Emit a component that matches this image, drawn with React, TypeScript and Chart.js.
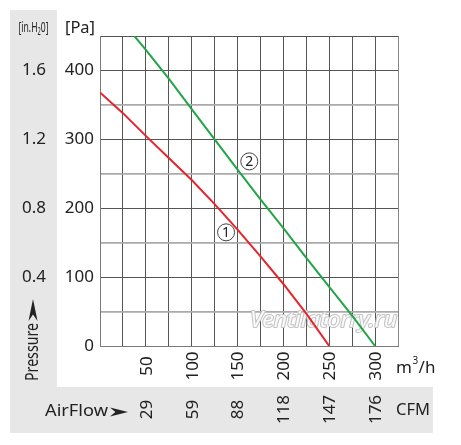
import React, { useEffect, useRef } from 'react';
import { Chart, registerables } from 'chart.js';

Chart.register(...registerables);

// ---- data ----
const flowRed = [0, 25, 50, 75, 100, 125, 150, 175, 200, 225, 250];
const pressureRed = [368, 338, 305, 273, 241, 206, 169, 130, 90, 47, 0];
const flowGreen = [37.5, 50, 75, 100, 125, 150, 175, 200, 225, 250, 275, 300];
const pressureGreen = [450, 430, 388, 344, 300, 256, 213, 171, 128, 86, 44, 0];

const flowTicks = [50, 100, 150, 200, 250, 300];
const flowTickLabels = ['50', '100', '150', '200', '250', '300'];
const cfmLabels = ['29', '59', '88', '118', '147', '176'];
const inH2OValues = [400, 300, 200, 100];
const inH2OLabels = ['1.6', '1.2', '0.8', '0.4'];
const curveTagText = ['1', '2'];
const curveTagFlow = [137.5, 162.8];
const curveTagPressure = [165, 268];

const FONT = "'Noto Sans', 'DejaVu Sans', sans-serif";
const TEXT = '#222222';
const GRAY_BG = '#e7e7e7';

function arrowHead(ctx: CanvasRenderingContext2D, x: number, y: number, len: number, half: number) {
  ctx.beginPath();
  ctx.moveTo(x + len, y);
  ctx.lineTo(x, y - half);
  ctx.lineTo(x + len * 0.3, y);
  ctx.lineTo(x, y + half);
  ctx.closePath();
  ctx.fill();
}

function fitText(ctx: CanvasRenderingContext2D, text: string, x: number, y: number, width: number) {
  const w = ctx.measureText(text).width;
  ctx.save();
  ctx.translate(x, y);
  ctx.scale(width / w, 1);
  ctx.fillText(text, 0, 0);
  ctx.restore();
}

const backgroundPlugin = {
  id: 'bgPanels',
  beforeDraw(chart: any) {
    const ctx = chart.ctx as CanvasRenderingContext2D;
    ctx.save();
    ctx.fillStyle = '#ffffff';
    ctx.fillRect(0, 0, chart.width, chart.height);
    ctx.fillStyle = GRAY_BG;
    ctx.fillRect(10, 10, 47, 423);
    ctx.fillRect(10, 387, 423, 46);
    ctx.restore();
  },
};

const watermarkPlugin = {
  id: 'watermark',
  beforeDatasetsDraw(chart: any) {
    const ctx = chart.ctx as CanvasRenderingContext2D;
    ctx.save();
    ctx.font = `italic 21px ${FONT}`;
    ctx.textBaseline = 'middle';
    ctx.textAlign = 'left';
    const text = 'Ventilatorry.ru';
    const w = ctx.measureText(text).width;
    ctx.translate(250, 321);
    ctx.scale(147 / w, 1);
    ctx.strokeStyle = '#c4c4c4';
    ctx.lineWidth = 2;
    ctx.lineJoin = 'round';
    ctx.strokeText(text, 0, 0);
    ctx.fillStyle = '#fafafa';
    ctx.fillText(text, 0, 0);
    ctx.restore();
  },
};

const labelsPlugin = {
  id: 'labels',
  afterDraw(chart: any) {
    const ctx = chart.ctx as CanvasRenderingContext2D;
    const xs = chart.scales.x;
    const ys = chart.scales.y;
    ctx.save();
    ctx.fillStyle = TEXT;

    // in.H2O labels
    ctx.font = `17px ${FONT}`;
    ctx.textAlign = 'right';
    ctx.textBaseline = 'middle';
    inH2OValues.forEach((v, i) => {
      ctx.fillText(inH2OLabels[i], 46, ys.getPixelForValue(v));
    });

    // [Pa]
    ctx.textAlign = 'left';
    fitText(ctx, '[Pa]', 65, 28, 30);

    // [in.H2O]
    ctx.save();
    ctx.font = `15px ${FONT}`;
    const wA = ctx.measureText('[in.H').width;
    const wC = ctx.measureText('0]').width;
    ctx.font = `10px ${FONT}`;
    const wB = ctx.measureText('2').width;
    const sx = 30 / (wA + wB + wC);
    ctx.translate(18.5, 28);
    ctx.scale(sx, 1);
    ctx.textAlign = 'left';
    ctx.font = `15px ${FONT}`;
    ctx.fillText('[in.H', 0, 0);
    ctx.font = `10px ${FONT}`;
    ctx.fillText('2', wA, 4.5);
    ctx.font = `15px ${FONT}`;
    ctx.fillText('0]', wA + wB, 0);
    ctx.restore();

    // x tick labels (rotated) and CFM row
    ctx.font = `17px ${FONT}`;
    ctx.textAlign = 'center';
    ctx.textBaseline = 'middle';
    flowTicks.forEach((v, i) => {
      const px = xs.getPixelForValue(v);
      ctx.save();
      ctx.translate(px + 1, 366);
      ctx.rotate(-Math.PI / 2);
      ctx.fillText(flowTickLabels[i], 0, 0);
      ctx.restore();
      ctx.save();
      ctx.translate(px + 1, 409.5);
      ctx.rotate(-Math.PI / 2);
      ctx.fillText(cfmLabels[i], 0, 0);
      ctx.restore();
    });

    // units
    ctx.textAlign = 'left';
    ctx.font = `17px ${FONT}`;
    ctx.fillText('m', 396, 368);
    let ux = 396 + ctx.measureText('m').width;
    ctx.font = `10px ${FONT}`;
    ctx.fillText('3', ux + 0.5, 361);
    ux += ctx.measureText('3').width + 1;
    ctx.font = `17px ${FONT}`;
    ctx.fillText('/h', ux, 368);
    fitText(ctx, 'CFM', 396, 410, 34);

    // AirFlow arrow
    fitText(ctx, 'AirFlow', 45, 411, 63);
    arrowHead(ctx, 110, 412, 18, 4.5);

    // Pressure arrow (vertical)
    ctx.save();
    ctx.translate(33, 381);
    ctx.rotate(-Math.PI / 2);
    ctx.textAlign = 'left';
    ctx.textBaseline = 'middle';
    ctx.font = `18px ${FONT}`;
    fitText(ctx, 'Pressure', 0, 0, 58);
    arrowHead(ctx, 60, 0, 22, 4.5);
    ctx.restore();

    // curve tags
    curveTagText.forEach((t, i) => {
      const px = xs.getPixelForValue(curveTagFlow[i]);
      const py = ys.getPixelForValue(curveTagPressure[i]);
      ctx.beginPath();
      ctx.arc(px, py, 8.5, 0, Math.PI * 2);
      ctx.fillStyle = '#ffffff';
      ctx.fill();
      ctx.strokeStyle = '#444444';
      ctx.lineWidth = 1;
      ctx.stroke();
      ctx.fillStyle = TEXT;
      ctx.font = `14px ${FONT}`;
      ctx.textAlign = 'center';
      ctx.textBaseline = 'middle';
      ctx.fillText(t, px, py + 0.5);
    });

    ctx.restore();
  },
};

export default function App() {
  const canvasRef = useRef<HTMLCanvasElement | null>(null);

  useEffect(() => {
    if (!canvasRef.current) return;
    const chart = new Chart(canvasRef.current, {
      type: 'line',
      data: {
        datasets: [
          {
            label: '1',
            data: flowRed.map((x, i) => ({ x, y: pressureRed[i] })),
            borderColor: '#e5242b',
            borderWidth: 2,
            pointRadius: 0,
            tension: 0,
            fill: false,
          },
          {
            label: '2',
            data: flowGreen.map((x, i) => ({ x, y: pressureGreen[i] })),
            borderColor: '#22a547',
            borderWidth: 2,
            pointRadius: 0,
            tension: 0,
            fill: false,
          },
        ],
      },
      options: {
        animation: false,
        responsive: false,
        devicePixelRatio: 1,
        layout: { padding: { top: 36, right: 63, left: 0, bottom: 0 } },
        plugins: {
          legend: { display: false },
          tooltip: { enabled: false },
        },
        scales: {
          x: {
            type: 'linear',
            min: 0,
            max: 325,
            ticks: { stepSize: 25, display: false },
            grid: {
              color: (c: any) => (c.tick && c.tick.value === 325 ? '#888888' : '#555555'),
              lineWidth: 1,
              drawTicks: false,
            },
            border: { display: true, color: '#7a7a7a', width: 1 },
            afterFit: (s: any) => {
              s.height = 99;
            },
          },
          y: {
            type: 'linear',
            min: 0,
            max: 450,
            ticks: {
              stepSize: 50,
              padding: 6,
              color: TEXT,
              font: { family: FONT, size: 17 },
              callback: (v: any) => (Number(v) % 100 === 0 ? String(v) : ''),
            },
            grid: {
              color: (c: any) => {
                const v = c.tick ? c.tick.value : 0;
                return v % 100 === 0 || v === 450 ? '#555555' : '#aaaaaa';
              },
              lineWidth: (c: any) => {
                const v = c.tick ? c.tick.value : 0;
                return v % 100 === 0 || v === 450 ? 1 : 1.8;
              },
              drawTicks: false,
            },
            border: { display: true, color: '#7a7a7a', width: 1 },
            afterFit: (s: any) => {
              s.width = 100;
            },
          },
        },
      },
      plugins: [backgroundPlugin, watermarkPlugin, labelsPlugin],
    });
    return () => chart.destroy();
  }, []);

  return (
    <div style={{ position: 'fixed', left: 0, top: 0, width: 461, height: 445, background: '#fff' }}>
      <canvas ref={canvasRef} width={461} height={445} style={{ width: 461, height: 445, display: 'block' }} />
    </div>
  );
}
